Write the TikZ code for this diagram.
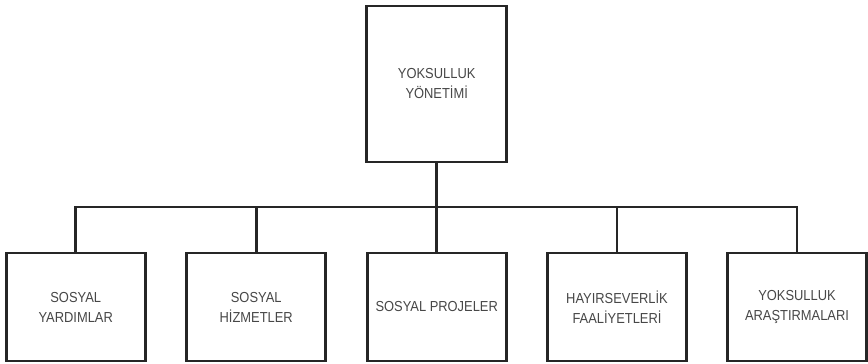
\documentclass[tikz,border=0pt]{standalone}
\usepackage{fontspec}
\setmainfont[FakeStretch=0.89]{Liberation Sans}
\begin{document}
\begin{tikzpicture}[x=1pt,y=-1pt,
  box/.style={draw=black!85,line width=2.6pt,fill=white,minimum width=139pt,align=center,
    font=\fontsize{14.5}{20}\selectfont,text=black!72,inner sep=0pt},
  small/.style={box,minimum height=108pt},
  link/.style={draw=black!85,line width=2.6pt}]
\useasboundingbox (0,0) rectangle (868,364);
\node[box,minimum width=140pt,minimum height=156pt] (top) at (436.7,84) {YOKSULLUK\\YÖNETİMİ};
\node[small] (b1) at (75.7,307) {SOSYAL\\YARDIMLAR};
\node[small] (b2) at (256.2,307) {SOSYAL\\HİZMETLER};
\node[small] (b3) at (436.7,307) {SOSYAL PROJELER};
\node[small] (b4) at (617.0,307) {HAYIRSEVERLİK\\FAALİYETLERİ};
\node[small] (b5) at (797.0,307) {YOKSULLUK\\ARAŞTIRMALARI};
\coordinate (bus) at (436.7,207);
\draw[link] (top.south) -- (bus);
\draw[link] (b1.north) |- (bus);
\draw[link] (b5.north) |- (bus);
\draw[link] (b2.north) -- (b2.north |- bus);
\draw[link] (b3.north) -- (bus);
\draw[link] (b4.north) -- (b4.north |- bus);
\end{tikzpicture}
\end{document}
